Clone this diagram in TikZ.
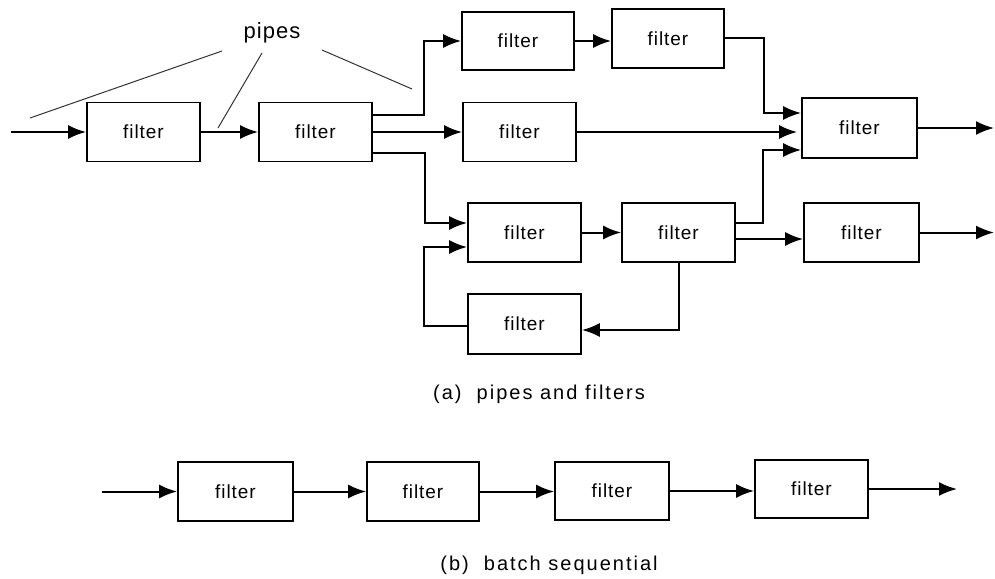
\documentclass[tikz,border=0pt]{standalone}
\usepackage{fontspec}
\newfontfamily\flt[LetterSpace=5]{Liberation Sans}
\newfontfamily\captfont[LetterSpace=10]{Liberation Sans}
\usetikzlibrary{arrows.meta}
\begin{document}
\begin{tikzpicture}[x=1pt,y=-1pt,
  fbox/.style={draw, line width=1.8pt, minimum width=113pt, minimum height=59pt, inner sep=0pt,
    font={\flt\fontsize{19}{19}\selectfont}},
  arr/.style={line width=2pt, -{Latex[length=18pt,width=14pt]}},
  pipe/.style={line width=1pt, black!80},
  captxt/.style={font={\captfont\fontsize{20}{20}\selectfont}, inner sep=0pt}]
\useasboundingbox (0,0) rectangle (995,578);
% (a) pipes and filters
\node[fbox] (box1) at (143.5,132) {filter};
\node[fbox] (box2) at (315.5,132) {filter};
\node[fbox, minimum width=112pt, minimum height=58pt] (top1) at (518,41) {filter};
\node[fbox, minimum width=112pt] (top2) at (668,38.5) {filter};
\node[fbox] (mid) at (519.5,132) {filter};
\node[fbox, minimum width=115pt, minimum height=60pt] (merge) at (859.5,128) {filter};
\node[fbox] (L) at (524.5,232.5) {filter};
\node[fbox] (M) at (678.5,232.5) {filter};
\node[fbox, minimum width=115pt] (R) at (861.5,232.5) {filter};
\node[fbox, minimum height=60pt] (bot) at (524.5,324) {filter};
\coordinate (in) at (11,132);
\coordinate (out1) at (994,130);
\coordinate (out2) at (994,233);
\draw[arr] (in) -- (box1);
\draw[arr] (box1) -- (box2);
\draw[arr] ([yshift=17pt]box2.east) -- ++(51,0) |- (top1.west);
\draw[arr] (box2.east) -- (mid.west);
\draw[arr] ([yshift=-21pt]box2.east) -- ++(52,0) |- ([yshift=9.5pt]L.west);
\draw[arr] (top1.east) -- (top1.east -| top2.west);
\draw[arr] (top2.east) -- ++(39,0) |- ([yshift=15pt]merge.west);
\draw[arr] (mid.east) -- ([xshift=-4pt]mid.east -| merge.west);
\draw[arr] ([yshift=9.5pt]M.east) -- ++(27,0) |- ([yshift=-22pt]merge.west);
\draw[arr] (merge.east) -- (merge.east -| out1);
\draw[arr] (L) -- (M);
\draw[arr] ([yshift=-6.5pt]M.east) -- ([yshift=-6.5pt]R.west);
\draw[arr] (R.east) -- (R.east -| out2);
\draw[arr] (M.south) |- ([yshift=-6pt]bot.east);
\draw[arr] ([yshift=-2pt]bot.west) -- ++(-43,0) |- ([yshift=-14.5pt]L.west);
% pipes label
\node[font={\flt\fontsize{22}{22}\selectfont}, inner sep=0pt] (pipes) at (272,33) {pipes};
\coordinate (p1a) at (222,51); \coordinate (p1b) at (30,118);
\coordinate (p2a) at (262,53); \coordinate (p2b) at (218,128);
\coordinate (p3a) at (322,50); \coordinate (p3b) at (412,89);
\draw[pipe] (p1a) -- (p1b);
\draw[pipe] (p2a) -- (p2b);
\draw[pipe] (p3a) -- (p3b);
\node[captxt] (capa) at (539,394) {(a)\ \ pipes and filters};
% (b) batch sequential
\node[fbox, minimum width=115pt] (b1) at (235.5,491.5) {filter};
\node[fbox, minimum width=112pt] (b2) at (423,491.5) {filter};
\node[fbox, minimum width=114pt, minimum height=58pt] (b3) at (612,491) {filter};
\node[fbox, minimum height=58pt] (b4) at (811.5,489) {filter};
\coordinate (bin) at (102,491.5);
\coordinate (bout) at (957,490);
\draw[arr] (bin) -- (b1);
\draw[arr] (b1) -- (b2);
\draw[arr] (b2.east) -- (b2.east -| b3.west);
\draw[arr] (b3.east) -- (b3.east -| b4.west);
\draw[arr] (b4.east) -- (b4.east -| bout);
\node[captxt] (capb) at (549,565) {(b)\ \ batch sequential};
\end{tikzpicture}
\end{document}
